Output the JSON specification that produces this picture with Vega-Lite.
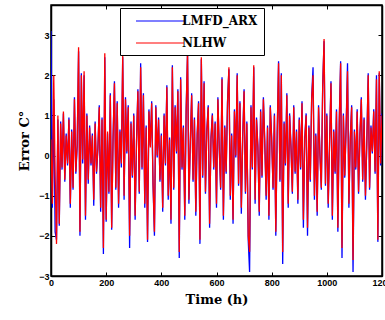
{
"$schema":"https://vega.github.io/schema/vega-lite/v6.json",
"width":331,"height":271,"autosize":"none",
"padding":{"left":51,"top":5,"right":3,"bottom":44},
"background":"white",
"config":{"view":{"stroke":"black","strokeWidth":1.5},
 "axis":{"domainColor":"black","domainWidth":1.5,"tickColor":"black","tickSize":-4,"tickWidth":1,"grid":false,
  "labelFont":"Liberation Sans","labelFontWeight":"bold","labelFontSize":9,"labelColor":"black",
  "titleFont":"DejaVu Serif","titleFontWeight":"bold","titleFontSize":13,"titleColor":"black"}},
"data":{"values":[
{"t":0,"LMFD_ARX":3.1,"NLHW":0.4},{"t":5,"LMFD_ARX":-1.3,"NLHW":-1.2},{"t":10,"LMFD_ARX":1.4,"NLHW":2.0},{"t":15,"LMFD_ARX":-1.9,"NLHW":-0.5},{"t":20,"LMFD_ARX":-2.1,"NLHW":-2.2},
{"t":25,"LMFD_ARX":0.9,"NLHW":1.0},{"t":30,"LMFD_ARX":-1.75,"NLHW":-1.7},{"t":35,"LMFD_ARX":0.85,"NLHW":0.8},{"t":40,"LMFD_ARX":-0.35,"NLHW":-0.3},{"t":45,"LMFD_ARX":1.05,"NLHW":1.1},
{"t":50,"LMFD_ARX":-0.65,"NLHW":-0.6},{"t":55,"LMFD_ARX":0.55,"NLHW":0.5},{"t":60,"LMFD_ARX":-0.25,"NLHW":-0.2},{"t":65,"LMFD_ARX":0.95,"NLHW":0.9},{"t":70,"LMFD_ARX":-1.3,"NLHW":-1.2},
{"t":75,"LMFD_ARX":0.65,"NLHW":0.6},{"t":80,"LMFD_ARX":-0.85,"NLHW":-0.8},{"t":85,"LMFD_ARX":1.45,"NLHW":1.4},{"t":90,"LMFD_ARX":-0.45,"NLHW":-0.4},{"t":95,"LMFD_ARX":0.25,"NLHW":0.3},
{"t":100,"LMFD_ARX":2.6,"NLHW":2.7},{"t":105,"LMFD_ARX":-2.0,"NLHW":-1.9},{"t":110,"LMFD_ARX":2.05,"NLHW":2.0},{"t":115,"LMFD_ARX":-0.2,"NLHW":-0.1},{"t":120,"LMFD_ARX":2.0,"NLHW":2.1},
{"t":125,"LMFD_ARX":-1.6,"NLHW":-1.5},{"t":130,"LMFD_ARX":1.05,"NLHW":1.0},{"t":135,"LMFD_ARX":-0.7,"NLHW":-0.6},{"t":140,"LMFD_ARX":0.75,"NLHW":0.7},{"t":145,"LMFD_ARX":-0.25,"NLHW":-0.2},
{"t":150,"LMFD_ARX":0.55,"NLHW":0.5},{"t":155,"LMFD_ARX":-1.25,"NLHW":-1.1},{"t":160,"LMFD_ARX":0.85,"NLHW":0.8},{"t":165,"LMFD_ARX":-0.45,"NLHW":-0.4},{"t":170,"LMFD_ARX":0.15,"NLHW":0.2},
{"t":175,"LMFD_ARX":1.25,"NLHW":1.2},{"t":180,"LMFD_ARX":-1.4,"NLHW":-1.3},{"t":185,"LMFD_ARX":0.95,"NLHW":0.9},{"t":190,"LMFD_ARX":-2.45,"NLHW":-2.3},{"t":195,"LMFD_ARX":2.45,"NLHW":2.55},
{"t":200,"LMFD_ARX":-1.65,"NLHW":-1.6},{"t":205,"LMFD_ARX":0.55,"NLHW":0.6},{"t":210,"LMFD_ARX":-0.95,"NLHW":-0.9},{"t":215,"LMFD_ARX":1.55,"NLHW":1.5},{"t":220,"LMFD_ARX":-1.85,"NLHW":-1.8},
{"t":225,"LMFD_ARX":0.45,"NLHW":0.4},{"t":230,"LMFD_ARX":1.85,"NLHW":1.8},{"t":235,"LMFD_ARX":-0.85,"NLHW":-0.8},{"t":240,"LMFD_ARX":1.35,"NLHW":1.3},{"t":245,"LMFD_ARX":-1.3,"NLHW":-1.2},
{"t":250,"LMFD_ARX":0.65,"NLHW":0.6},{"t":255,"LMFD_ARX":-0.3,"NLHW":-0.2},{"t":260,"LMFD_ARX":2.45,"NLHW":2.5},{"t":265,"LMFD_ARX":-1.1,"NLHW":-1.0},{"t":270,"LMFD_ARX":1.45,"NLHW":1.4},
{"t":275,"LMFD_ARX":0.05,"NLHW":0.1},{"t":280,"LMFD_ARX":1.25,"NLHW":1.2},{"t":285,"LMFD_ARX":-2.3,"NLHW":-2.0},{"t":290,"LMFD_ARX":0.85,"NLHW":0.8},{"t":295,"LMFD_ARX":-0.55,"NLHW":-0.5},
{"t":300,"LMFD_ARX":1.05,"NLHW":1.0},{"t":305,"LMFD_ARX":-1.6,"NLHW":-1.5},{"t":310,"LMFD_ARX":0.35,"NLHW":0.3},{"t":315,"LMFD_ARX":1.65,"NLHW":1.6},{"t":320,"LMFD_ARX":-0.95,"NLHW":-0.9},
{"t":325,"LMFD_ARX":2.3,"NLHW":2.2},{"t":330,"LMFD_ARX":-0.35,"NLHW":-0.3},{"t":335,"LMFD_ARX":1.55,"NLHW":1.5},{"t":340,"LMFD_ARX":-1.3,"NLHW":-1.2},{"t":345,"LMFD_ARX":0.75,"NLHW":0.7},
{"t":350,"LMFD_ARX":-2.15,"NLHW":-2.1},{"t":355,"LMFD_ARX":1.15,"NLHW":1.1},{"t":360,"LMFD_ARX":0.25,"NLHW":0.2},{"t":365,"LMFD_ARX":1.35,"NLHW":1.3},{"t":370,"LMFD_ARX":-0.75,"NLHW":-0.7},
{"t":375,"LMFD_ARX":-2.0,"NLHW":-1.9},{"t":380,"LMFD_ARX":1.25,"NLHW":1.2},{"t":385,"LMFD_ARX":-0.05,"NLHW":0.0},{"t":390,"LMFD_ARX":0.95,"NLHW":0.9},{"t":395,"LMFD_ARX":-0.65,"NLHW":-0.6},
{"t":400,"LMFD_ARX":0.55,"NLHW":0.5},{"t":405,"LMFD_ARX":-1.4,"NLHW":-1.3},{"t":410,"LMFD_ARX":1.05,"NLHW":1.0},{"t":415,"LMFD_ARX":-0.25,"NLHW":-0.2},{"t":420,"LMFD_ARX":1.75,"NLHW":1.7},
{"t":425,"LMFD_ARX":-1.1,"NLHW":-1.0},{"t":430,"LMFD_ARX":0.45,"NLHW":0.4},{"t":435,"LMFD_ARX":-1.7,"NLHW":-1.6},{"t":440,"LMFD_ARX":2.25,"NLHW":2.2},{"t":445,"LMFD_ARX":-0.85,"NLHW":-0.8},
{"t":450,"LMFD_ARX":1.25,"NLHW":1.2},{"t":455,"LMFD_ARX":0.05,"NLHW":0.1},{"t":460,"LMFD_ARX":1.65,"NLHW":1.6},{"t":465,"LMFD_ARX":-2.55,"NLHW":-2.4},{"t":470,"LMFD_ARX":1.95,"NLHW":1.9},
{"t":475,"LMFD_ARX":-0.35,"NLHW":-0.3},{"t":480,"LMFD_ARX":0.75,"NLHW":0.7},{"t":485,"LMFD_ARX":-1.6,"NLHW":-1.5},{"t":490,"LMFD_ARX":1.15,"NLHW":1.1},{"t":495,"LMFD_ARX":2.55,"NLHW":2.6},
{"t":500,"LMFD_ARX":-1.2,"NLHW":-1.1},{"t":505,"LMFD_ARX":0.35,"NLHW":0.3},{"t":510,"LMFD_ARX":1.55,"NLHW":1.5},{"t":515,"LMFD_ARX":-0.65,"NLHW":-0.6},{"t":520,"LMFD_ARX":0.95,"NLHW":0.9},
{"t":525,"LMFD_ARX":-1.5,"NLHW":-1.4},{"t":530,"LMFD_ARX":0.55,"NLHW":0.5},{"t":535,"LMFD_ARX":1.35,"NLHW":1.3},{"t":540,"LMFD_ARX":-2.2,"NLHW":-2.1},{"t":545,"LMFD_ARX":2.4,"NLHW":2.45},
{"t":550,"LMFD_ARX":-0.55,"NLHW":-0.5},{"t":555,"LMFD_ARX":1.85,"NLHW":1.8},{"t":560,"LMFD_ARX":-0.95,"NLHW":-0.9},{"t":565,"LMFD_ARX":0.65,"NLHW":0.6},{"t":570,"LMFD_ARX":1.25,"NLHW":1.2},
{"t":575,"LMFD_ARX":-1.8,"NLHW":-1.7},{"t":580,"LMFD_ARX":0.45,"NLHW":0.4},{"t":585,"LMFD_ARX":1.05,"NLHW":1.0},{"t":590,"LMFD_ARX":-0.35,"NLHW":-0.3},{"t":595,"LMFD_ARX":0.85,"NLHW":0.8},
{"t":600,"LMFD_ARX":-1.3,"NLHW":-1.2},{"t":605,"LMFD_ARX":1.45,"NLHW":1.4},{"t":610,"LMFD_ARX":0.15,"NLHW":0.2},{"t":615,"LMFD_ARX":-0.85,"NLHW":-0.8},{"t":620,"LMFD_ARX":1.95,"NLHW":1.9},
{"t":625,"LMFD_ARX":-1.6,"NLHW":-1.5},{"t":630,"LMFD_ARX":0.75,"NLHW":0.7},{"t":635,"LMFD_ARX":-0.45,"NLHW":-0.4},{"t":640,"LMFD_ARX":1.35,"NLHW":1.3},{"t":645,"LMFD_ARX":2.15,"NLHW":2.2},
{"t":650,"LMFD_ARX":-1.1,"NLHW":-1.0},{"t":655,"LMFD_ARX":0.55,"NLHW":0.5},{"t":660,"LMFD_ARX":-1.7,"NLHW":-1.6},{"t":665,"LMFD_ARX":1.15,"NLHW":1.1},{"t":670,"LMFD_ARX":-0.05,"NLHW":0.0},
{"t":675,"LMFD_ARX":2.05,"NLHW":2.0},{"t":680,"LMFD_ARX":-0.75,"NLHW":-0.7},{"t":685,"LMFD_ARX":1.35,"NLHW":1.3},{"t":690,"LMFD_ARX":-1.45,"NLHW":-1.3},{"t":695,"LMFD_ARX":0.45,"NLHW":0.4},
{"t":700,"LMFD_ARX":1.65,"NLHW":1.6},{"t":705,"LMFD_ARX":-0.95,"NLHW":-0.9},{"t":710,"LMFD_ARX":0.85,"NLHW":0.8},{"t":715,"LMFD_ARX":-2.1,"NLHW":-2.0},{"t":720,"LMFD_ARX":-2.9,"NLHW":-2.4},
{"t":725,"LMFD_ARX":1.25,"NLHW":1.2},{"t":730,"LMFD_ARX":-0.35,"NLHW":-0.3},{"t":735,"LMFD_ARX":2.2,"NLHW":2.25},{"t":740,"LMFD_ARX":-1.2,"NLHW":-1.1},{"t":745,"LMFD_ARX":0.95,"NLHW":0.9},
{"t":750,"LMFD_ARX":0.25,"NLHW":0.2},{"t":755,"LMFD_ARX":-1.5,"NLHW":-1.4},{"t":760,"LMFD_ARX":1.15,"NLHW":1.1},{"t":765,"LMFD_ARX":-0.55,"NLHW":-0.5},{"t":770,"LMFD_ARX":1.45,"NLHW":1.4},
{"t":775,"LMFD_ARX":0.35,"NLHW":0.3},{"t":780,"LMFD_ARX":-1.1,"NLHW":-1.0},{"t":785,"LMFD_ARX":0.75,"NLHW":0.7},{"t":790,"LMFD_ARX":-1.6,"NLHW":-1.5},{"t":795,"LMFD_ARX":1.25,"NLHW":1.2},
{"t":800,"LMFD_ARX":0.45,"NLHW":0.4},{"t":805,"LMFD_ARX":-0.85,"NLHW":-0.8},{"t":810,"LMFD_ARX":1.05,"NLHW":1.0},{"t":815,"LMFD_ARX":-2.0,"NLHW":-1.9},{"t":820,"LMFD_ARX":0.55,"NLHW":0.5},
{"t":825,"LMFD_ARX":2.35,"NLHW":2.3},{"t":830,"LMFD_ARX":-0.65,"NLHW":-0.6},{"t":835,"LMFD_ARX":2.05,"NLHW":2.0},{"t":840,"LMFD_ARX":-2.7,"NLHW":-2.4},{"t":845,"LMFD_ARX":0.85,"NLHW":0.8},
{"t":850,"LMFD_ARX":-0.25,"NLHW":-0.2},{"t":855,"LMFD_ARX":1.55,"NLHW":1.5},{"t":860,"LMFD_ARX":-1.3,"NLHW":-1.2},{"t":865,"LMFD_ARX":1.05,"NLHW":1.0},{"t":870,"LMFD_ARX":0.25,"NLHW":0.2},
{"t":875,"LMFD_ARX":-0.95,"NLHW":-0.9},{"t":880,"LMFD_ARX":1.25,"NLHW":1.2},{"t":885,"LMFD_ARX":-0.45,"NLHW":-0.4},{"t":890,"LMFD_ARX":0.65,"NLHW":0.6},{"t":895,"LMFD_ARX":-1.2,"NLHW":-1.1},
{"t":900,"LMFD_ARX":0.95,"NLHW":0.9},{"t":905,"LMFD_ARX":-0.35,"NLHW":-0.3},{"t":910,"LMFD_ARX":1.35,"NLHW":1.3},{"t":915,"LMFD_ARX":-1.8,"NLHW":-1.6},{"t":920,"LMFD_ARX":0.45,"NLHW":0.4},
{"t":925,"LMFD_ARX":1.05,"NLHW":1.0},{"t":930,"LMFD_ARX":-2.0,"NLHW":-1.8},{"t":935,"LMFD_ARX":0.75,"NLHW":0.7},{"t":940,"LMFD_ARX":-0.65,"NLHW":-0.6},{"t":945,"LMFD_ARX":1.45,"NLHW":1.4},
{"t":950,"LMFD_ARX":2.2,"NLHW":2.0},{"t":955,"LMFD_ARX":-1.1,"NLHW":-1.0},{"t":960,"LMFD_ARX":0.55,"NLHW":0.5},{"t":965,"LMFD_ARX":-1.5,"NLHW":-1.4},{"t":970,"LMFD_ARX":1.25,"NLHW":1.2},
{"t":975,"LMFD_ARX":0.05,"NLHW":0.0},{"t":980,"LMFD_ARX":-0.85,"NLHW":-0.8},{"t":985,"LMFD_ARX":1.75,"NLHW":1.7},{"t":990,"LMFD_ARX":2.85,"NLHW":2.9},{"t":995,"LMFD_ARX":-0.75,"NLHW":-0.7},
{"t":1000,"LMFD_ARX":1.05,"NLHW":1.0},{"t":1005,"LMFD_ARX":-1.3,"NLHW":-1.2},{"t":1010,"LMFD_ARX":0.35,"NLHW":0.3},{"t":1015,"LMFD_ARX":1.85,"NLHW":1.8},{"t":1020,"LMFD_ARX":-1.6,"NLHW":-1.5},
{"t":1025,"LMFD_ARX":0.65,"NLHW":0.6},{"t":1030,"LMFD_ARX":-0.45,"NLHW":-0.4},{"t":1035,"LMFD_ARX":1.15,"NLHW":1.1},{"t":1040,"LMFD_ARX":-1.9,"NLHW":-1.8},{"t":1045,"LMFD_ARX":0.85,"NLHW":0.8},
{"t":1050,"LMFD_ARX":2.35,"NLHW":2.3},{"t":1055,"LMFD_ARX":-2.55,"NLHW":-2.3},{"t":1060,"LMFD_ARX":1.05,"NLHW":1.0},{"t":1065,"LMFD_ARX":-0.55,"NLHW":-0.5},{"t":1070,"LMFD_ARX":0.75,"NLHW":0.7},
{"t":1075,"LMFD_ARX":2.3,"NLHW":2.1},{"t":1080,"LMFD_ARX":-1.3,"NLHW":-1.2},{"t":1085,"LMFD_ARX":0.45,"NLHW":0.4},{"t":1090,"LMFD_ARX":1.25,"NLHW":1.2},{"t":1095,"LMFD_ARX":-2.9,"NLHW":-2.6},
{"t":1100,"LMFD_ARX":0.65,"NLHW":0.6},{"t":1105,"LMFD_ARX":-0.35,"NLHW":-0.3},{"t":1110,"LMFD_ARX":1.15,"NLHW":1.1},{"t":1115,"LMFD_ARX":-0.95,"NLHW":-0.9},{"t":1120,"LMFD_ARX":0.55,"NLHW":0.5},
{"t":1125,"LMFD_ARX":1.45,"NLHW":1.4},{"t":1130,"LMFD_ARX":-0.65,"NLHW":-0.6},{"t":1135,"LMFD_ARX":0.95,"NLHW":0.9},{"t":1140,"LMFD_ARX":-1.1,"NLHW":-1.0},{"t":1145,"LMFD_ARX":0.35,"NLHW":0.3},
{"t":1150,"LMFD_ARX":2.05,"NLHW":2.0},{"t":1155,"LMFD_ARX":-0.85,"NLHW":-0.8},{"t":1160,"LMFD_ARX":0.75,"NLHW":0.7},{"t":1165,"LMFD_ARX":0.05,"NLHW":0.1},{"t":1170,"LMFD_ARX":1.15,"NLHW":1.1},
{"t":1175,"LMFD_ARX":-0.45,"NLHW":-0.4},{"t":1180,"LMFD_ARX":2.0,"NLHW":1.9},{"t":1185,"LMFD_ARX":-2.15,"NLHW":-2.1},{"t":1190,"LMFD_ARX":2.05,"NLHW":2.1},{"t":1195,"LMFD_ARX":-0.25,"NLHW":-0.2},
{"t":1200,"LMFD_ARX":1.05,"NLHW":1.0}
]},
"transform":[{"fold":["LMFD_ARX","NLHW"],"as":["series","value"]}],
"resolve":{"axis":{"x":"independent","y":"independent"}},
"layer":[
 {"mark":{"type":"line","strokeWidth":1.3,"clip":true},
  "encoding":{
   "x":{"field":"t","type":"quantitative","scale":{"domain":[0,1200],"nice":false,"zero":false},
        "axis":{"orient":"bottom","values":[0,200,400,600,800,1000,1200],"format":"d","title":"Time (h)","labelPadding":6,"titlePadding":6,"labelFlush":false}},
   "y":{"field":"value","type":"quantitative","scale":{"domain":[-3,3.75],"nice":false,"zero":false},
        "axis":{"orient":"left","values":[-3,-2,-1,0,1,2,3],"format":"d","title":"Error C°","labelPadding":6,"titlePadding":7,"labelFlush":false}},
   "color":{"field":"series","type":"nominal","scale":{"domain":["LMFD_ARX","NLHW"],"range":["#0000ff","#ff0000"]},
        "legend":{"orient":"none","legendX":69,"legendY":3,"title":null,"fillColor":"white","strokeColor":"black",
          "padding":6,"cornerRadius":0,"rowPadding":9,"symbolType":"M0.5,0H8.5","symbolSize":144,"symbolStrokeWidth":1.2,"labelOffset":42,
          "labelFont":"DejaVu Serif","labelFontWeight":"bold","labelFontSize":12,"labelColor":"black","labelLimit":200}}
  }},
 {"mark":{"type":"point","opacity":0},
  "encoding":{
   "x":{"field":"t","type":"quantitative","axis":{"orient":"top","values":[0,200,400,600,800,1000,1200],"labels":false,"title":null}},
   "y":{"field":"value","type":"quantitative","axis":{"orient":"right","values":[-3,-2,-1,0,1,2,3],"labels":false,"title":null}}
  }}
]
}
